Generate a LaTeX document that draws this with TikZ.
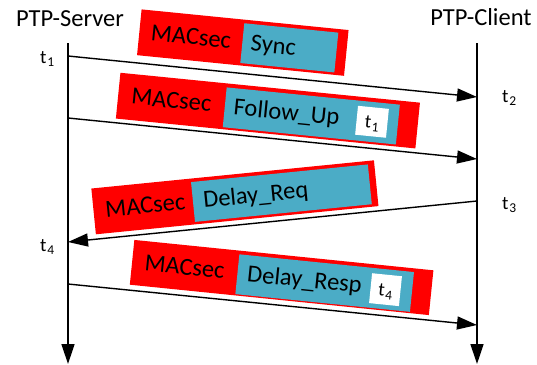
\documentclass[tikz,border=0pt]{standalone}
\usepackage{fontspec}
\setmainfont{Carlito}
\usetikzlibrary{arrows.meta}
\definecolor{macred}{HTML}{FF0000}
\definecolor{payload}{HTML}{4BACC6}
% time stamp "t" with a lowered index
\newcommand\tstamp[1]{t\kern0.9pt\raisebox{-3pt}{\fontsize{13.5}{14}\selectfont #1}}

\begin{document}
\begin{tikzpicture}[x=1pt,y=-1pt,
  flow/.style={line width=1.4pt, -{Triangle[length=20pt,width=13pt]}},
  bigtext/.style={font=\fontsize{24.5}{28}\selectfont, inner sep=0pt, anchor=base},
  ts/.style={font=\fontsize{19}{22}\selectfont, inner sep=0pt, anchor=base west},
  frame/.style={fill=macred, inner sep=0pt, minimum height=46pt, transform shape},
  body/.style={fill=payload, inner sep=0pt, minimum height=40pt, transform shape},
  stampbox/.style={fill=white, inner sep=0pt, minimum width=31pt, minimum height=29pt, transform shape},
  stamptext/.style={font=\fontsize{19}{22}\selectfont, inner sep=0pt, anchor=base, transform shape},
  word/.style={font=\fontsize{24.5}{28}\selectfont, inner sep=0pt, anchor=base, transform shape},
  fieldword/.style={word, anchor=base west},
]
\useasboundingbox (0,0) rectangle (537,364);

% endpoints
\node[bigtext] (server) at (70,26.5) {PTP-Server};
\node[bigtext] (client) at (481,25.5) {PTP-Client};

\coordinate (sTop) at (68,43);
\coordinate (sEnd) at (68,364);
\coordinate (cTop) at (477,43);
\coordinate (cEnd) at (477,364);

% Sync
\begin{scope}[shift={(242.8,42.6)}, rotate=-5.7]
  \node[frame, minimum width=208pt] (syncFrame) at (0,0) {};
  \node[body, minimum width=94.5pt] (syncBody) at (46.8,0.6) {};
  \node[word] (syncSec) at (-52,7) {MACsec};
  \node[fieldword] (syncName) at (8,7.5) {Sync};
\end{scope}

% Follow_Up
\begin{scope}[shift={(267.9,110.6)}, rotate=-5.7]
  \node[frame, minimum width=301pt] (fupFrame) at (0,0) {};
  \node[body, minimum width=174pt] (fupBody) at (43.7,1) {};
  \node[stampbox] (fupStamp) at (104.7,0.8) {};
  \node[word] (fupSec) at (-97,7) {MACsec};
  \node[fieldword] (fupName) at (-34.5,7.5) {Follow\_Up};
  \node[stamptext] (fupT) at (104.7,7.5) {\tstamp{1}};
\end{scope}

% Delay_Req
\begin{scope}[shift={(234.9,197.3)}, rotate=5.7]
  \node[frame, minimum width=284pt] (reqFrame) at (0,0) {};
  \node[body, minimum width=177.7pt] (reqBody) at (46.7,0.5) {};
  \node[word] (reqSec) at (-90,7) {MACsec};
  \node[fieldword] (reqName) at (-32,7.5) {Delay\_Req};
\end{scope}

% Delay_Resp
\begin{scope}[shift={(281.6,277.5)}, rotate=-5.8]
  \node[frame, minimum width=300.6pt, minimum height=45pt] (respFrame) at (0,0) {};
  \node[body, minimum width=175.5pt] (respBody) at (43.4,1.2) {};
  \node[stampbox, minimum width=30pt, minimum height=30pt] (respStamp) at (104.6,1.6) {};
  \node[word] (respSec) at (-97.5,7) {MACsec};
  \node[fieldword] (respName) at (-34.6,7.5) {Delay\_Resp};
  \node[stamptext] (respT) at (104.6,8) {\tstamp{4}};
\end{scope}

% time lines
\draw[flow] (sTop) -- (sEnd);
\draw[flow] (cTop) -- (cEnd);

% messages
\coordinate (s1) at (68,56);
\coordinate (c2) at (477,97);
\coordinate (s1b) at (68,118);
\coordinate (c2b) at (477,159);
\coordinate (c3) at (477,201);
\coordinate (s4) at (68,242);
\coordinate (s4b) at (68,284);
\coordinate (c4) at (477,325);

\draw[flow] (s1) -- (c2);
\draw[flow] (s1b) -- (c2b);
\draw[flow] (c3) -- (s4);
\draw[flow] (s4b) -- (c4);

% time stamps
\node[ts] (t1) at (40,63.3) {\tstamp{1}};
\node[ts] (t2) at (502,102) {\tstamp{2}};
\node[ts] (t3) at (502,209) {\tstamp{3}};
\node[ts] (t4) at (40,251) {\tstamp{4}};
\end{tikzpicture}
\end{document}
